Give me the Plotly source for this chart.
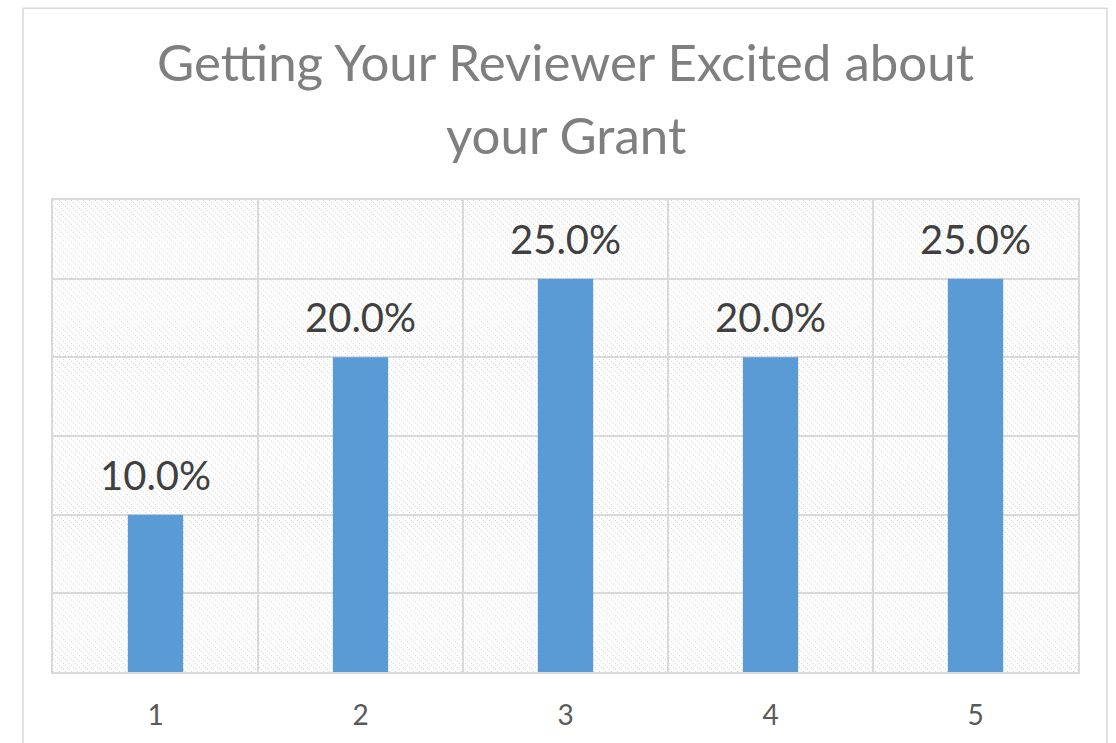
import base64
import plotly.graph_objects as go

categories = [1, 2, 3, 4, 5]
values = [0.10, 0.20, 0.25, 0.20, 0.25]
labels = ["10.0%", "20.0%", "25.0%", "20.0%", "25.0%"]
title_lines = ["Getting Your Reviewer Excited about", "your Grant"]

W, H = 1116, 743
L, R, T, B = 53, 38, 200, 68
PW, PH = W - L - R, H - T - B

svg = (
    f'<svg xmlns="http://www.w3.org/2000/svg" width="{PW}" height="{PH}" shape-rendering="crispEdges">'
    '<defs><pattern id="p" width="6" height="6" patternUnits="userSpaceOnUse">'
    '<rect x="0" y="0" width="1.3" height="1.3" fill="#d6d6d6"/>'
    '<rect x="2" y="2" width="1.3" height="1.3" fill="#d6d6d6"/>'
    '<rect x="4" y="4" width="1.3" height="1.3" fill="#d6d6d6"/>'
    '</pattern></defs>'
    f'<rect width="{PW}" height="{PH}" fill="white"/>'
    f'<rect width="{PW}" height="{PH}" fill="url(#p)"/></svg>'
)
src = "data:image/svg+xml;base64," + base64.b64encode(svg.encode()).decode()

fig = go.Figure()
fig.add_trace(go.Bar(
    x=categories, y=values, width=0.27,
    marker=dict(color="#5B9BD5", line=dict(width=0)),
    hoverinfo="skip",
))

for c, v, t in zip(categories, values, labels):
    fig.add_annotation(
        x=c, y=v, text=t, showarrow=False, xref="x", yref="y",
        yanchor="bottom", yshift=14,
        font=dict(family="Lato", size=40, color="#404040"),
    )

# title lines, centred on the plot area; pixel rows of their cap-height centres
for line, py in zip(title_lines, [61, 134]):
    fig.add_annotation(
        x=0.5, y=(H - B - py) / PH, xref="paper", yref="paper",
        xanchor="center", yanchor="middle", text=line, showarrow=False,
        font=dict(family="Lato", size=51, color="#7f7f7f"),
    )

fig.update_layout(
    width=W, height=H,
    margin=dict(l=L, r=R, t=T, b=B),
    paper_bgcolor="white", plot_bgcolor="rgba(0,0,0,0)",
    showlegend=False,
    images=[dict(
        source=src, xref="paper", yref="paper", x=0, y=1, sizex=1, sizey=1,
        sizing="stretch", xanchor="left", yanchor="top", layer="below",
    )],
    shapes=[dict(
        type="rect", xref="paper", yref="paper",
        x0=(23 - L) / PW, x1=(1107 - L) / PW,
        y0=-0.3, y1=(H - B - 7) / PH,
        line=dict(color="#d9d9d9", width=1.5), layer="below",
    )],
    xaxis=dict(
        range=[0.5, 5.5], tickmode="array", tickvals=categories,
        ticktext=[str(c) for c in categories],
        showgrid=False, zeroline=False,
        showline=True, mirror=True, linecolor="#d9d9d9", linewidth=2,
        ticks="outside", ticklen=17, tickcolor="rgba(0,0,0,0)",
        tickfont=dict(family="Lato", size=28, color="#595959"),
        minor=dict(tickmode="array", tickvals=[1.5, 2.5, 3.5, 4.5],
                   showgrid=True, gridcolor="#d9d9d9", gridwidth=2, ticks=""),
        fixedrange=True,
    ),
    yaxis=dict(
        range=[0, 0.30], dtick=0.05, showticklabels=False,
        showgrid=True, gridcolor="#d9d9d9", gridwidth=2, zeroline=False,
        showline=True, mirror=True, linecolor="#d9d9d9", linewidth=2,
        fixedrange=True,
    ),
)

fig.write_html(
    "out.html", config={"displayModeBar": False},
    post_script="document.body.style.margin='0';document.body.style.overflow='hidden';",
)
